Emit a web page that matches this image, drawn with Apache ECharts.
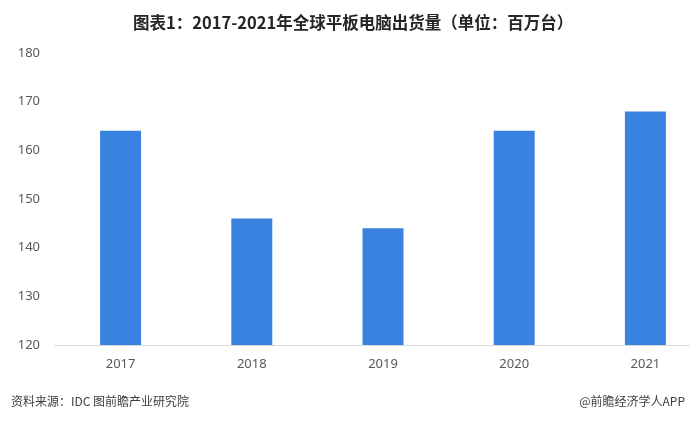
<!DOCTYPE html>
<html><head><meta charset="utf-8">
<script src="https://cdn.jsdelivr.net/npm/echarts@6/dist/echarts.min.js"></script>
<style>html,body{margin:0;padding:0;background:#fff;overflow:hidden;width:690px;height:422px}#c{width:711px;height:422px}</style>
</head><body><div id="c"></div>
<script>
const categories = ['2017', '2018', '2019', '2020', '2021'];
const shipments = [164, 146, 144, 164, 168];
const yTicks = [120, 130, 140, 150, 160, 170, 180];

const chart = echarts.init(document.getElementById('c'), null, {renderer: 'canvas'});
chart.setOption({
  backgroundColor: '#ffffff',
  animation: false,
  title: [{
    text: '图表1：2017-2021年全球平板电脑出货量（单位：百万台）',
    left: 128, top: 9,
    textStyle: {fontFamily: 'Noto Sans CJK SC', fontWeight: 'bold', fontSize: 16.5, color: '#262626'}
  }, {
    text: '资料来源：IDC 图前瞻产业研究院',
    left: 6, top: 390,
    textStyle: {fontFamily: 'Noto Sans CJK SC', fontWeight: 'normal', fontSize: 12, color: '#404040'}
  }, {
    text: '@前瞻经济学人APP',
    right: 21, top: 390,
    textStyle: {fontFamily: 'Noto Sans CJK SC', fontWeight: 'normal', fontSize: 12, color: '#404040'}
  }],
  grid: {left: 55, right: 0, top: 53, height: 292, containLabel: false},
  xAxis: {
    type: 'category', data: categories,
    axisLine: {lineStyle: {color: '#d9d9d9'}},
    axisTick: {show: false},
    axisLabel: {color: '#595959', fontSize: 13, margin: 13, fontFamily: 'Noto Sans'}
  },
  yAxis: {
    type: 'value', min: yTicks[0], max: yTicks[yTicks.length - 1], interval: 10,
    splitLine: {show: false},
    axisLine: {show: false}, axisTick: {show: false},
    axisLabel: {color: '#595959', fontSize: 13, margin: 15, fontFamily: 'Noto Sans'}
  },
  series: [{
    type: 'bar', data: shipments, barWidth: 41,
    itemStyle: {color: '#3a82e0'}
  }]
});
</script></body></html>
